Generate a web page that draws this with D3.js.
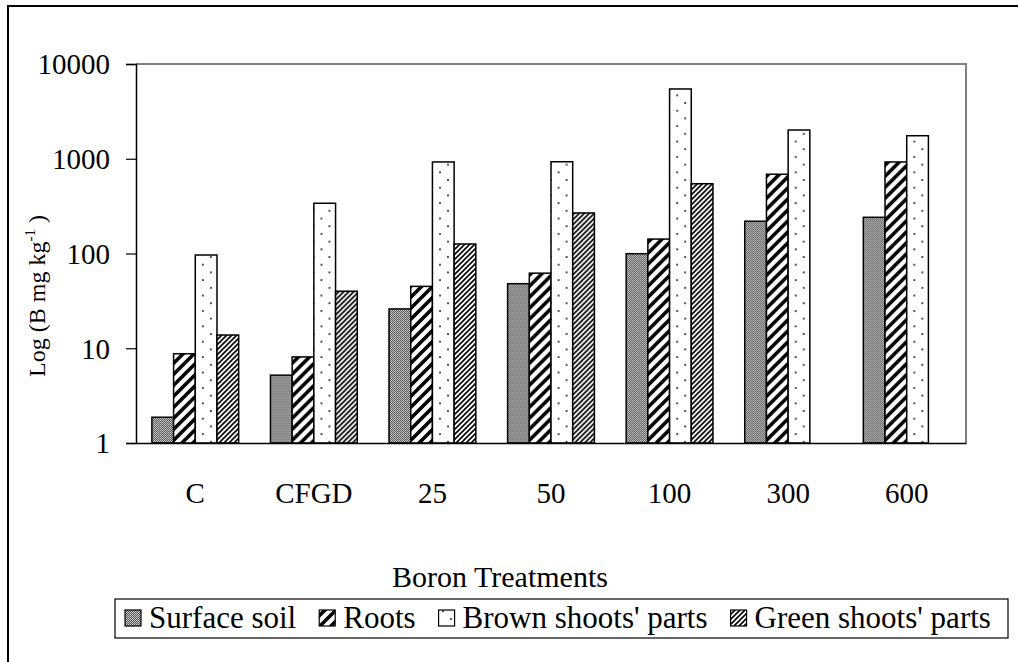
<!DOCTYPE html>
<html>
<head>
<meta charset="utf-8">
<script src="https://cdn.jsdelivr.net/npm/d3@7"></script>
<style>
  html, body { margin: 0; padding: 0; background: #fff; }
  svg { display: block; font-family: "Liberation Serif", "Times New Roman", serif; }
</style>
</head>
<body>
<svg id="chart" width="1018" height="662"></svg>
<script>
// Boron concentration by treatment (mg/kg, log scale)
const categories = ["C", "CFGD", "25", "50", "100", "300", "600"];
const seriesNames = ["Surface soil", "Roots", "Brown shoots' parts", "Green shoots' parts"];
const surfaceSoil = [1.87, 5.2, 26, 48, 99.5, 219, 241];
const roots = [8.75, 8.1, 45, 62, 142, 686, 925];
const brownShoots = [96.4, 339, 925, 930, 5450, 2010, 1750];
const greenShoots = [13.8, 40, 126, 268, 545, null, null];
const yTicks = [1, 10, 100, 1000, 10000];

const seriesValues = [surfaceSoil, roots, brownShoots, greenShoots];
const patternIds = ["pat-soil", "pat-roots", "pat-brown", "pat-green"];

const svg = d3.select("#chart");
const defs = svg.append("defs");

// Fine grey checker for surface soil
const pSoil = defs.append("pattern").attr("id", "pat-soil")
  .attr("patternUnits", "userSpaceOnUse").attr("width", 2).attr("height", 2);
pSoil.append("rect").attr("width", 2).attr("height", 2).attr("fill", "#555");
pSoil.append("rect").attr("width", 1).attr("height", 1).attr("fill", "#d4d4d4");
pSoil.append("rect").attr("x", 1).attr("y", 1).attr("width", 1).attr("height", 1).attr("fill", "#bcbcbc");

// Wide diagonal stripes for roots
const pRoots = defs.append("pattern").attr("id", "pat-roots")
  .attr("patternUnits", "userSpaceOnUse").attr("width", 11).attr("height", 11);
pRoots.append("rect").attr("width", 11).attr("height", 11).attr("fill", "#fff");
pRoots.append("path").attr("d", "M-2,13 L13,-2 M-3,3 L3,-3 M8,14 L14,8")
  .attr("stroke", "#000").attr("stroke-width", 3.6);

// Sparse dots for brown shoots
const pBrown = defs.append("pattern").attr("id", "pat-brown")
  .attr("patternUnits", "userSpaceOnUse").attr("width", 16).attr("height", 15.4);
pBrown.append("rect").attr("width", 16).attr("height", 15.4).attr("fill", "#fff");
pBrown.append("circle").attr("cx", 3).attr("cy", 3).attr("r", 1.1).attr("fill", "#333");
pBrown.append("circle").attr("cx", 11).attr("cy", 10.7).attr("r", 1.1).attr("fill", "#333");

// Fine diagonal stripes for green shoots
const pGreen = defs.append("pattern").attr("id", "pat-green")
  .attr("patternUnits", "userSpaceOnUse").attr("width", 5).attr("height", 5);
pGreen.append("rect").attr("width", 5).attr("height", 5).attr("fill", "#fff");
pGreen.append("path").attr("d", "M-1,6 L6,-1 M-1,1 L1,-1 M4,6 L6,4")
  .attr("stroke", "#000").attr("stroke-width", 1.6);

// Outer frame
svg.append("path").attr("d", "M8,662 L8,6 L1018,6")
  .attr("fill", "none").attr("stroke", "#000").attr("stroke-width", 2);

const plot = { left: 136, right: 966, top: 64, bottom: 443 };

const x0 = d3.scaleBand().domain(categories).range([plot.left, plot.right]).padding(0);
const groupW = x0.bandwidth() * 0.732;
const x1 = d3.scaleBand().domain(d3.range(seriesNames.length)).range([0, groupW]).padding(0);
const y = d3.scaleLog().domain([1, 10000]).range([plot.bottom, plot.top]);

// Plot area border (grey top/right)
svg.append("path")
  .attr("d", `M${plot.left},${plot.top} L${plot.right},${plot.top} L${plot.right},${plot.bottom}`)
  .attr("fill", "none").attr("stroke", "#808080").attr("stroke-width", 2);

// Bars
const groups = svg.append("g").selectAll("g").data(categories).join("g")
  .attr("transform", d => `translate(${x0(d) + (x0.bandwidth() - groupW) / 2},0)`);

groups.selectAll("rect")
  .data((c, ci) => seriesValues.map((vals, si) => ({ si, v: vals[ci] })).filter(d => d.v != null))
  .join("rect")
  .attr("x", d => x1(d.si))
  .attr("width", x1.bandwidth())
  .attr("y", d => y(d.v))
  .attr("height", d => y(1) - y(d.v))
  .attr("fill", d => `url(#${patternIds[d.si]})`)
  .attr("stroke", "#000").attr("stroke-width", 1.5);

// Y axis
const yAxis = d3.axisLeft(y).tickValues(yTicks).tickFormat(d3.format("d"))
  .tickSize(10).tickPadding(16);
const gy = svg.append("g").attr("transform", `translate(${plot.left},0)`).call(yAxis);
gy.select(".domain").attr("stroke", "#000").attr("stroke-width", 1.5);
gy.selectAll(".tick line").attr("stroke", "#000").attr("stroke-width", 1.2);
gy.selectAll(".tick text").attr("font-size", 29).attr("font-family", "Liberation Serif")
  .attr("fill", "#000").attr("dy", "0.34em");

// X axis (baseline only, labels below)
const xAxis = d3.axisBottom(x0).tickSize(0).tickPadding(60);
const gx = svg.append("g").attr("transform", `translate(0,${plot.bottom})`).call(xAxis);
gx.select(".domain").attr("stroke", "#000").attr("stroke-width", 1.5);
gx.selectAll(".tick text").attr("font-size", 29).attr("font-family", "Liberation Serif")
  .attr("fill", "#000").attr("dy", "0em");

// Axis titles
svg.append("text").attr("x", 500).attr("y", 587).attr("text-anchor", "middle")
  .attr("font-size", 30).text("Boron Treatments");

const yt = svg.append("text").attr("transform", "translate(45,296) rotate(-90)")
  .attr("text-anchor", "middle").attr("font-size", 24);
yt.append("tspan").text("Log (B mg kg");
yt.append("tspan").attr("font-size", 15).attr("dy", -10).text("-1");
yt.append("tspan").attr("dy", 10).text(" )");

// Legend
const legend = svg.append("g");
legend.append("rect").attr("x", 115).attr("y", 599).attr("width", 893).attr("height", 39)
  .attr("fill", "#fff").attr("stroke", "#000").attr("stroke-width", 1.2);
let lx = 125;
seriesNames.forEach((name, i) => {
  legend.append("rect").attr("x", lx).attr("y", 610).attr("width", 16).attr("height", 16)
    .attr("fill", `url(#${patternIds[i]})`).attr("stroke", "#000").attr("stroke-width", 1.2);
  const t = legend.append("text").attr("x", lx + 24).attr("y", 628)
    .attr("font-size", 31).text(name);
  lx += 24 + t.node().getComputedTextLength() + 23;
});
</script>
</body>
</html>
